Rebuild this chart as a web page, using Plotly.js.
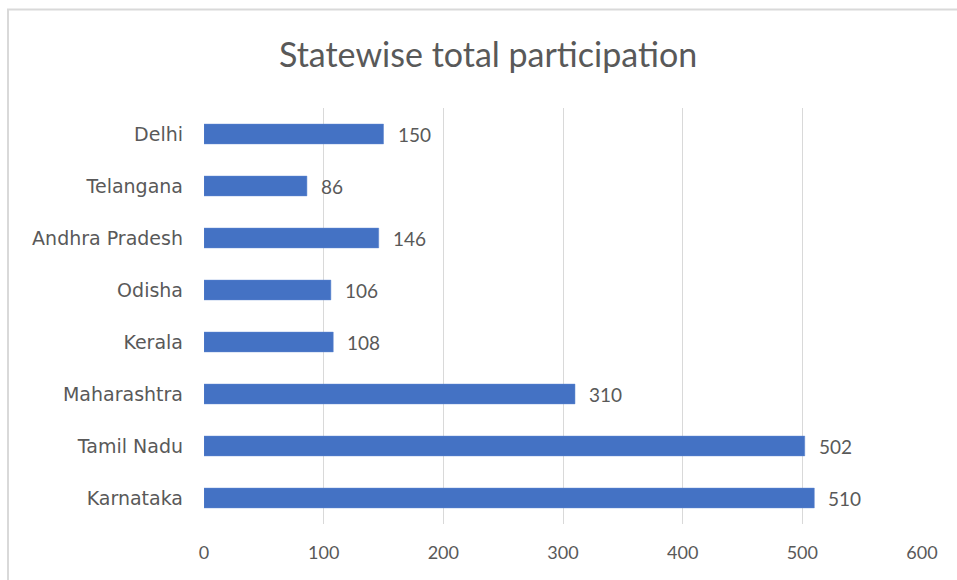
<!DOCTYPE html>
<html>
<head>
<meta charset="utf-8">
<script src="https://cdn.plot.ly/plotly-3.0.1.min.js"></script>
<style>html,body{margin:0;padding:0;background:#fff;}#chart{width:957px;height:580px;}</style>
</head>
<body>
<div id="chart"></div>
<script>
const states = ["Karnataka", "Tamil Nadu", "Maharashtra", "Kerala", "Odisha", "Andhra Pradesh", "Telangana", "Delhi"];
const participation = [510, 502, 310, 108, 106, 146, 86, 150];
const xTicks = [0, 100, 200, 300, 400, 500, 600];

const textColor = "#595959";
const numFont = "Lato, 'Open Sans', sans-serif";

const annotations = states.map((s, i) => ({
  x: participation[i], y: s, xref: "x", yref: "y",
  text: String(participation[i]), showarrow: false,
  xanchor: "left", xshift: 12,
  font: {family: numFont, size: 19, color: textColor}
}));

const data = [{
  type: "bar", orientation: "h",
  x: participation, y: states,
  marker: {color: "#4472C4", line: {color: "#5B85CF", width: 0.5}},
  hoverinfo: "x+y"
}];

const layout = {
  width: 957, height: 580,
  margin: {l: 204, r: 35, t: 108, b: 56},
  paper_bgcolor: "#fff", plot_bgcolor: "#fff",
  title: {text: "Statewise total participation", x: 0.51, xanchor: "center", y: 0.905, yanchor: "middle",
          font: {family: numFont, size: 34, color: textColor}},
  bargap: 0.62,
  showlegend: false,
  xaxis: {range: [0, 600], tickvals: xTicks, ticktext: xTicks.map(String),
          showgrid: true, gridcolor: "#D9D9D9", gridwidth: 1, zeroline: false,
          showline: false, ticks: "", fixedrange: true, ticklabelstandoff: 16,
          tickfont: {family: numFont, size: 18, color: textColor}},
  yaxis: {type: "category", categoryorder: "array", categoryarray: states,
          showgrid: false, zeroline: false, showline: false, ticks: "",
          ticklabelstandoff: 20,
          tickfont: {family: "'DejaVu Sans', sans-serif", size: 19, color: textColor}},
  annotations: annotations,
  shapes: [{type: "rect", xref: "paper", yref: "paper",
            x0: -0.2730, x1: 1.06, y0: -0.15, y1: 1.2368,
            line: {color: "#D9D9D9", width: 2}, fillcolor: "rgba(0,0,0,0)", layer: "below"}]
};

Plotly.newPlot("chart", data, layout, {displayModeBar: false, staticPlot: true});
</script>
</body>
</html>
